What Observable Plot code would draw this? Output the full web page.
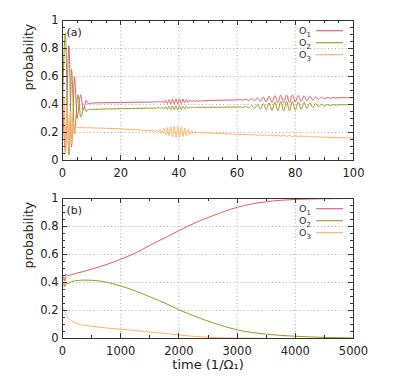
<!DOCTYPE html>
<html>
<head>
<meta charset="utf-8">
<script src="https://cdn.jsdelivr.net/npm/d3@7"></script>
<script src="https://cdn.jsdelivr.net/npm/@observablehq/plot@0.6"></script>
<style>
  html, body { margin: 0; padding: 0; background: #fff; }
  #chart { width: 415px; height: 380px; }
  #chart svg { display: block; }
</style>
</head>
<body>
<div id="chart"></div>
<script>
// ---------- Panel (a): short times ----------
const tA = [0, 0.5, 1.0, 1.6, 2.2, 2.7, 3.1, 3.6, 4.1, 4.6, 5.0, 5.3, 5.8, 6.2, 6.7, 7.1, 7.6, 8.1, 8.6,
  9, 10, 15, 20, 25, 30,
  31.2, 31.8, 32.4, 33.0, 33.6, 34.2, 34.8, 35.4, 36.0, 36.6, 37.2, 37.8, 38.4, 39.0, 39.6, 40.2, 40.8, 41.4, 42.0, 42.6, 43.2, 43.8, 44.4, 45.0, 45.6, 46.2, 46.8, 47.4, 48.0,
  50, 55, 60,
  61, 62, 63, 64, 65, 66, 67, 68, 69, 70, 71, 72, 73, 74, 75, 76, 77, 78, 79, 80, 81, 82, 83, 84, 85, 86, 87, 88, 89, 90, 91, 92, 93, 94, 95, 96,
  100];

const o1A = [0.42, 0.2, 0.06, 0.5, 0.82, 0.45, 0.1, 0.3, 0.6, 0.45, 0.3, 0.33, 0.42, 0.47, 0.42, 0.36, 0.39, 0.43, 0.41,
  0.405, 0.41, 0.413, 0.414, 0.416, 0.417,
  0.418, 0.421, 0.4165, 0.4235, 0.415, 0.427, 0.4115, 0.4315, 0.408, 0.435, 0.4055, 0.4385, 0.4044, 0.440, 0.4045, 0.440, 0.407, 0.438, 0.4105, 0.4345, 0.415, 0.431, 0.4191, 0.4285, 0.4223, 0.4268, 0.4245, 0.426, 0.426,
  0.429, 0.431, 0.433,
  0.4348, 0.4312, 0.4383, 0.4293, 0.4419, 0.4275, 0.4468, 0.4229, 0.4530, 0.4184, 0.4593, 0.4146, 0.4636, 0.4128, 0.4664, 0.4128, 0.4672, 0.4142, 0.4668, 0.4172, 0.4646, 0.4216, 0.4617, 0.4265, 0.4582, 0.4317, 0.4548, 0.4365, 0.4518, 0.4409, 0.4497, 0.4442, 0.4486, 0.4464, 0.4484, 0.4483,
  0.45];

const o2A = [0.38, 0.75, 0.91, 0.45, 0.04, 0.3, 0.65, 0.45, 0.19, 0.3, 0.42, 0.47, 0.4, 0.31, 0.33, 0.37, 0.38, 0.35, 0.36,
  0.365, 0.365, 0.368, 0.370, 0.372, 0.374,
  0.3735, 0.376, 0.3725, 0.3785, 0.3707, 0.3815, 0.3682, 0.385, 0.3655, 0.3882, 0.3635, 0.3907, 0.3623, 0.392, 0.3622, 0.392, 0.3642, 0.3903, 0.367, 0.3872, 0.371, 0.3847, 0.3745, 0.3823, 0.3769, 0.381, 0.3788, 0.3805, 0.38,
  0.380, 0.381, 0.382,
  0.3832, 0.3786, 0.3875, 0.3761, 0.3919, 0.3737, 0.3979, 0.3678, 0.4057, 0.3620, 0.4134, 0.3571, 0.4188, 0.3547, 0.4221, 0.3546, 0.4231, 0.3563, 0.4223, 0.3599, 0.4196, 0.3653, 0.4157, 0.3713, 0.4113, 0.3778, 0.4067, 0.3838, 0.4030, 0.3892, 0.4001, 0.3931, 0.3987, 0.3958, 0.3983, 0.3981,
  0.40];

const o3A = [0.2, 0.45, 0.05, 0.4, 0.08, 0.35, 0.12, 0.28, 0.2, 0.245, 0.232, 0.236, 0.235, 0.236, 0.235, 0.235, 0.235, 0.234, 0.234,
  0.234, 0.233, 0.23, 0.226, 0.22, 0.214,
  0.2145, 0.208, 0.2175, 0.203, 0.2225, 0.194, 0.2295, 0.185, 0.2365, 0.176, 0.2425, 0.169, 0.2455, 0.166, 0.2455, 0.166, 0.2405, 0.171, 0.2325, 0.179, 0.2225, 0.186, 0.2135, 0.192, 0.2065, 0.196, 0.2019, 0.1978, 0.1985,
  0.197, 0.192, 0.187,
  0.1861, 0.1861, 0.1844, 0.1851, 0.1826, 0.1842, 0.1807, 0.1836, 0.1785, 0.1831, 0.1764, 0.1824, 0.1745, 0.1815, 0.1729, 0.1802, 0.1715, 0.1788, 0.1704, 0.1771, 0.1694, 0.1753, 0.1687, 0.1733, 0.1679, 0.1713, 0.1673, 0.1693, 0.1664, 0.1675, 0.1656, 0.1658, 0.1645, 0.1643, 0.1633, 0.1627,
  0.160];

// ---------- Panel (b): long times ----------
const tB = [0, 20, 40, 60, 80, 150, 250, 366, 500, 650, 800, 1000, 1250, 1500, 1800, 2000, 2300, 2600, 3000, 3500, 4000, 4500, 5000];
const o1B = [0.40, 0.44, 0.41, 0.46, 0.45, 0.455, 0.467, 0.479, 0.495, 0.514, 0.535, 0.566, 0.61, 0.665, 0.728, 0.77, 0.83, 0.88, 0.937, 0.977, 0.993, 0.998, 1.0];
const o2B = [0.36, 0.40, 0.37, 0.40, 0.39, 0.405, 0.414, 0.417, 0.416, 0.41, 0.398, 0.375, 0.34, 0.298, 0.245, 0.205, 0.155, 0.11, 0.062, 0.031, 0.016, 0.008, 0.004];
const o3B = [0.23, 0.20, 0.19, 0.17, 0.155, 0.13, 0.105, 0.095, 0.087, 0.08, 0.073, 0.066, 0.057, 0.047, 0.034, 0.025, 0.014, 0.007, 0.003, 0.001, 0, 0, 0];

// ---------- Ticks & labels ----------
const xTicksA = [0, 20, 40, 60, 80, 100];
const xTicksB = [0, 1000, 2000, 3000, 4000, 5000];
const yTicks = [0, 0.2, 0.4, 0.6, 0.8, 1];
const seriesNames = ["O1", "O2", "O3"];
const legendBase = ["O", "O", "O"];
const legendSub = ["1", "2", "3"];
const colors = ["#e25a6a", "#9a9a22", "#ffb266"];
const panelLabels = ["(a)", "(b)"];
const yLabel = "probability";
const xLabel = "time (1/\u03A9\u2081)";

function rows(t, arrs) {
  const out = [];
  arrs.forEach((a, k) => a.forEach((v, i) => out.push({t: t[i], p: v, s: seriesNames[k]})));
  return out;
}

function frameTicks(xMaj, xMin, yMaj, yMin) {
  return (index, scales, values, dims) => {
    const {x, y} = scales;
    const L = dims.marginLeft, R = dims.width - dims.marginRight;
    const T = dims.marginTop, B = dims.height - dims.marginBottom;
    const g = d3.create("svg:g").attr("stroke", "#333").attr("stroke-width", 1).attr("fill", "none");
    const seg = (x1, y1, x2, y2) => g.append("line").attr("x1", x1).attr("y1", y1).attr("x2", x2).attr("y2", y2);
    xMaj.forEach(v => { const px = Math.round(x(v)) + 0.5; seg(px, B, px, B - 5); seg(px, T, px, T + 5); });
    xMin.forEach(v => { const px = Math.round(x(v)) + 0.5; seg(px, B, px, B - 3); seg(px, T, px, T + 3); });
    yMaj.forEach(v => { const py = Math.round(y(v)) + 0.5; seg(L, py, L + 5, py); seg(R, py, R - 5, py); });
    yMin.forEach(v => { const py = Math.round(y(v)) + 0.5; seg(L, py, L + 3, py); seg(R, py, R - 3, py); });
    return g.node();
  };
}

function legendMark() {
  return (index, scales, values, dims) => {
    const R = dims.width - dims.marginRight, T = dims.marginTop;
    const g = d3.create("svg:g");
    legendBase.forEach((b, i) => {
      const yy = T + 10.7 + i * 12;
      const tx = g.append("text").attr("x", R - 42).attr("y", yy).attr("dy", "0.35em")
        .attr("text-anchor", "end").attr("font-size", 9.5).attr("fill", "#333");
      tx.append("tspan").text(b);
      tx.append("tspan").attr("font-size", 7).attr("dy", 3).text(legendSub[i]);
      g.append("line").attr("x1", R - 37).attr("x2", R - 10).attr("y1", yy).attr("y2", yy)
        .attr("stroke", colors[i]).attr("stroke-width", 1.1);
    });
    return g.node();
  };
}

function panel({data, xDomain, xTicks, xMinor, height, marginTop, marginBottom, label, withXLabel}) {
  const marks = [
    Plot.gridX(xTicks.slice(1, -1), {stroke: "#aaa", strokeOpacity: 1, strokeDasharray: "1,2.5"}),
    Plot.gridY(yTicks.slice(1, -1), {stroke: "#aaa", strokeOpacity: 1, strokeDasharray: "1,2.5"}),
    Plot.line(data, {x: "t", y: "p", z: "s", stroke: "s", strokeWidth: 1, curve: "monotone-x"}),
    Plot.frame({stroke: "#333", strokeWidth: 1}),
    frameTicks(xTicks, xMinor, yTicks, d3.range(0.05, 1, 0.05)),
    Plot.axisX(xTicks, {tickSize: 0, tickPadding: 8, tickFormat: d => String(d), label: null, fontSize: 11.5}),
    Plot.axisY(yTicks, {tickSize: 0, tickPadding: 4, tickFormat: d => String(d), label: null, fontSize: 11.5}),
    Plot.text([yLabel], {frameAnchor: "left", rotate: -90, dx: -34, fontSize: 12.5}),
    Plot.text([label], {frameAnchor: "top-left", dx: 4, dy: 8, fontSize: 11, textAnchor: "start"}),
    legendMark()
  ];
  if (withXLabel) marks.push(Plot.text([xLabel], {frameAnchor: "bottom", dy: 30, fontSize: 13}));
  return Plot.plot({
    width: 415, height, marginLeft: 62, marginRight: 62, marginTop, marginBottom,
    style: {fontFamily: "'DejaVu Sans', sans-serif", fontSize: "11.5px", color: "#222", background: "#fff"},
    x: {domain: xDomain},
    y: {domain: [0, 1]},
    color: {domain: seriesNames, range: colors},
    marks
  });
}

const chart = document.getElementById("chart");
chart.append(panel({
  data: rows(tA, [o1A, o2A, o3A]), xDomain: [0, 100], xTicks: xTicksA, xMinor: d3.range(5, 100, 5),
  height: 185, marginTop: 20, marginBottom: 25, label: panelLabels[0], withXLabel: false
}));
chart.append(panel({
  data: rows(tB, [o1B, o2B, o3B]), xDomain: [0, 5000], xTicks: xTicksB, xMinor: d3.range(500, 5000, 500),
  height: 195, marginTop: 13, marginBottom: 57 - 15, label: panelLabels[1], withXLabel: true
}));
</script>
</body>
</html>
